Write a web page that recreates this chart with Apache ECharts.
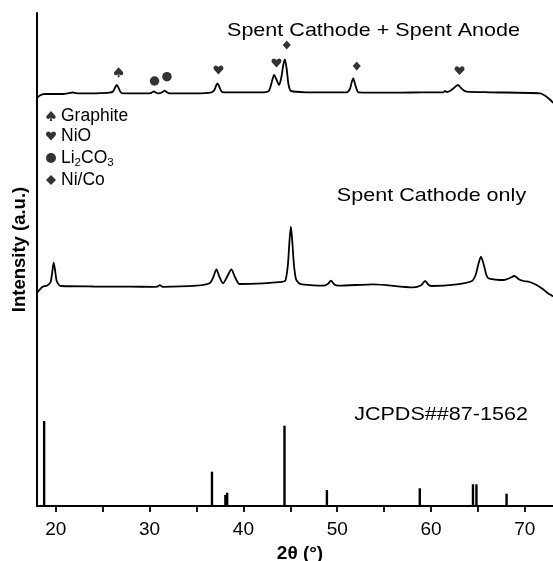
<!DOCTYPE html>
<html>
<head>
<meta charset="utf-8">
<script src="https://cdn.jsdelivr.net/npm/echarts@6/dist/echarts.min.js"></script>
<style>
html,body{margin:0;padding:0;background:#fff;}
#chart{width:553px;height:561px;}
</style>
</head>
<body>
<div id="chart"></div>
<script>
// ---- Data (2θ in degrees, intensity in arbitrary units with vertical offsets) ----
const xMin = 18, xMax = 73;
const xTickValues = [20, 25, 30, 35, 40, 45, 50, 55, 60, 65, 70];
const xLabelValues = [20, 30, 40, 50, 60, 70];

// Spent Cathode + Spent Anode
const cathodeAnode = [
  [18.0, 408], [18.3, 410.5], [18.8, 412], [20.7, 412], [21.4, 412.8], [21.8, 413.5], [22.3, 412.6],
  [24.3, 412.7], [25.7, 413.3], [26.1, 414.5], [26.3, 418], [26.5, 421], [26.7, 418], [26.9, 414],
  [27.15, 412.7], [30.0, 412.7], [30.25, 413.5], [30.45, 414.5], [30.7, 413.3], [30.9, 412.7],
  [31.3, 413.5], [31.6, 415.3], [31.85, 413.8], [32.1, 412.7], [35.0, 412.7], [36.6, 413.7],
  [36.9, 416], [37.1, 420.5], [37.23, 422.7], [37.4, 420], [37.6, 415.5], [37.83, 413.7],
  [42.1, 413.7], [42.7, 415], [43.0, 423], [43.27, 431], [43.5, 427], [43.8, 421], [44.05, 429],
  [44.25, 441], [44.42, 446.5], [44.6, 438], [44.8, 422], [45.0, 415.5], [45.3, 414.5], [46.7, 413.7],
  [51.0, 413.7], [51.35, 417], [51.55, 424], [51.71, 427.7], [51.9, 422], [52.1, 416], [52.25, 413.7],
  [55.6, 413.3], [58.0, 413.5], [61.3, 413.7], [61.5, 415], [61.7, 414], [62.05, 415.3], [62.5, 418.5],
  [62.86, 421], [63.2, 418], [63.5, 415.5], [63.8, 414.3], [66.3, 413.7], [71.65, 412.7], [72.2, 410],
  [72.6, 407], [72.9, 404.3], [73.0, 403]
];

// Spent Cathode only
const cathodeOnly = [
  [18.0, 213], [18.3, 216.5], [18.6, 219.3], [19.1, 220.5], [19.45, 224], [19.65, 236], [19.78, 243.3],
  [19.92, 236], [20.1, 225], [20.35, 221], [20.57, 220], [24.0, 219.5], [27.9, 219.3], [30.5, 219.2],
  [30.8, 219.3], [31.1, 220.8], [31.4, 219.2], [35.0, 220.3], [36.4, 222.7], [36.8, 229], [37.12, 236.7],
  [37.45, 229], [37.83, 222.7], [38.25, 229], [38.72, 236.7], [39.1, 229], [39.6, 222], [42.1, 222.7],
  [44.24, 224.3], [44.5, 226], [44.75, 242], [44.92, 266], [45.06, 279.3], [45.2, 266], [45.38, 242],
  [45.6, 227], [45.9, 223], [46.2, 221.7], [48.5, 220.3], [49.0, 222], [49.33, 225.3], [49.7, 221.5],
  [50.1, 220.3], [53.85, 221.7], [58.1, 218.7], [58.9, 220.5], [59.37, 225], [59.75, 221], [60.1, 220],
  [62.76, 221.7], [64.36, 225], [64.75, 231], [65.05, 242], [65.32, 249.3], [65.6, 242], [65.9, 231],
  [66.13, 227.7], [67.74, 226], [68.4, 228], [68.88, 230], [69.4, 226.5], [69.87, 225], [70.5, 224],
  [71.1, 221.7], [71.9, 217], [72.5, 212.5], [72.9, 210.3], [73.0, 209.5]
];

// JCPDS 87-1562 reference lines
const refPositions = [18.76, 36.65, 38.08, 38.27, 44.38, 48.9, 58.8, 64.47, 64.84, 68.05];
const refHeights   = [85,    34.3,  11,    13.3,  80.3,  16,   17.7, 21.7,  21.7,  12.3];

// Phase markers above the Spent Cathode + Spent Anode pattern
const graphiteMarks = [[26.7, 433.7]];
const nioMarks      = [[37.34, 436], [43.53, 443], [63.04, 435.3]];
const li2co3Marks   = [[30.53, 425], [31.85, 429.3]];
const nicoMarks     = [[44.62, 461], [52.08, 440]];

const seriesLabels = ['Spent Cathode + Spent Anode', 'Spent Cathode only', 'JCPDS##87-1562'];
const phaseNames = ['Graphite', 'NiO', 'Li2CO3', 'Ni/Co'];

// ---- Chart ----
const FONT = '"Liberation Sans", Arial, Helvetica, sans-serif';
const heartPath = 'path://M12,22 L3,12.5 C0,9.5 0.5,4 4.5,3 C7.5,2.3 10.5,4 12,6.5 C13.5,4 16.5,2.3 19.5,3 C23.5,4 24,9.5 21,12.5 Z';
const spadePath = 'path://M12,1 L3.5,10.5 C0.5,13.5 1.5,18.5 5.5,18.5 C8,18.5 10,17 11,15.5 L9.5,23 L14.5,23 L13,15.5 C14,17 16,18.5 18.5,18.5 C22.5,18.5 23.5,13.5 20.5,10.5 Z';

const refData = refPositions.map((p, i) => [p, refHeights[i]]);

const chart = echarts.init(document.getElementById('chart'), null, {renderer: 'canvas'});
chart.setOption({
  animation: false,
  backgroundColor: '#fff',
  textStyle: {fontFamily: FONT, color: '#000'},
  grid: {left: 37, right: 0, top: 13, bottom: 55, containLabel: false, outerBoundsMode: 'none'},
  legend: {
    orient: 'vertical',
    left: 46,
    top: 107,
    padding: 0,
    itemGap: 2,
    itemWidth: 10,
    itemHeight: 10,
    selectedMode: false,
    data: [
      {name: 'Graphite', icon: spadePath},
      {name: 'NiO', icon: heartPath},
      {name: 'Li2CO3', icon: 'circle'},
      {name: 'Ni/Co', icon: 'diamond'}
    ],
    formatter: function (name) {
      if (name === 'Li2CO3') return 'Li{sub|2}CO{sub|3}';
      return name;
    },
    textStyle: {
      fontFamily: FONT, fontSize: 17.5, color: '#000', lineHeight: 18,
      rich: {
        sub: {fontFamily: FONT, fontSize: 11.5, color: '#000', lineHeight: 8, padding: [10, 0, 0, 0]}
      }
    }
  },
  xAxis: {
    type: 'value',
    min: xMin,
    max: xMax,
    name: '2θ (°)',
    nameLocation: 'middle',
    nameGap: 36,
    nameTextStyle: {fontFamily: FONT, fontSize: 19, fontWeight: 'bold', color: '#000', padding: [0, 0, 0, 10]},
    axisLine: {show: true, onZero: false, lineStyle: {color: '#000', width: 2}},
    axisTick: {show: true, inside: false, length: 6, customValues: xTickValues, lineStyle: {color: '#000', width: 1.8}},
    axisLabel: {show: true, customValues: xLabelValues, margin: 14, fontFamily: FONT, fontSize: 19, color: '#000'},
    splitLine: {show: false}
  },
  yAxis: {
    type: 'value',
    min: 0,
    max: 493,
    name: 'Intensity (a.u.)',
    nameLocation: 'middle',
    nameGap: 8,
    nameTextStyle: {fontFamily: FONT, fontSize: 18.5, fontWeight: 'bold', color: '#000', padding: [0, 0, 0, 20]},
    axisLine: {show: true, lineStyle: {color: '#000', width: 2}},
    axisTick: {show: false},
    axisLabel: {show: false},
    splitLine: {show: false}
  },
  series: [
    {
      name: seriesLabels[0], type: 'line', data: cathodeAnode, showSymbol: false,
      smooth: 0.25, lineStyle: {color: '#000', width: 1.8}, silent: true
    },
    {
      name: seriesLabels[1], type: 'line', data: cathodeOnly, showSymbol: false,
      smooth: 0.25, lineStyle: {color: '#000', width: 1.8}, silent: true
    },
    {
      name: seriesLabels[2], type: 'custom', data: refData, silent: true,
      renderItem: function (params, api) {
        const x = api.value(0), h = api.value(1);
        const p0 = api.coord([x, 0]);
        const p1 = api.coord([x, h]);
        return {type: 'line', shape: {x1: p0[0], y1: p0[1], x2: p1[0], y2: p1[1]},
                style: {stroke: '#000', lineWidth: 2.4}};
      }
    },
    {name: phaseNames[0], type: 'scatter', data: graphiteMarks, symbol: spadePath, symbolSize: [10, 10],
     symbolKeepAspect: true, itemStyle: {color: '#000'}, silent: true},
    {name: phaseNames[1], type: 'scatter', data: nioMarks, symbol: heartPath, symbolSize: [10, 10],
     symbolKeepAspect: true, itemStyle: {color: '#000'}, silent: true},
    {name: phaseNames[2], type: 'scatter', data: li2co3Marks, symbol: 'circle', symbolSize: 9.5,
     itemStyle: {color: '#000'}, silent: true},
    {name: phaseNames[3], type: 'scatter', data: nicoMarks, symbol: 'diamond', symbolSize: [8, 9],
     itemStyle: {color: '#000'}, silent: true}
  ],
  graphic: [
    {type: 'text', x: 373.5, y: 31, scaleX: 1.165, silent: true,
     style: {text: seriesLabels[0], fontFamily: FONT, fontSize: 18.5, fill: '#000', align: 'center', verticalAlign: 'middle'}},
    {type: 'text', x: 431.5, y: 196, scaleX: 1.165, silent: true,
     style: {text: seriesLabels[1], fontFamily: FONT, fontSize: 18.5, fill: '#000', align: 'center', verticalAlign: 'middle'}},
    {type: 'text', x: 441, y: 415, scaleX: 1.165, silent: true,
     style: {text: seriesLabels[2], fontFamily: FONT, fontSize: 18.5, fill: '#000', align: 'center', verticalAlign: 'middle'}}
  ]
});
</script>
</body>
</html>
